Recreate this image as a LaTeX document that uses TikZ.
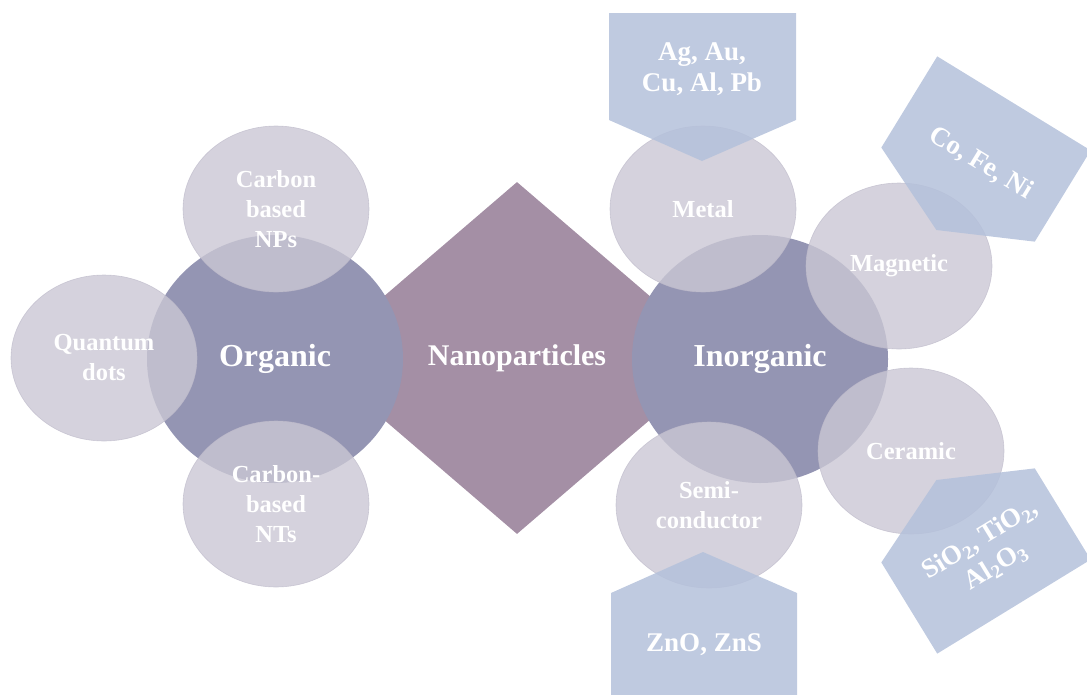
\documentclass[tikz,border=0pt]{standalone}
\usepackage{fontspec}
\setmainfont{Liberation Serif}
\usetikzlibrary{shapes.geometric}
\definecolor{bigblob}{RGB}{148,149,179}
\definecolor{diamondfill}{RGB}{164,143,165}
\definecolor{smallblob}{RGB}{202,199,212}
\definecolor{smallrim}{RGB}{190,186,202}
\definecolor{tagfill}{RGB}{180,193,219}

\begin{document}
\begin{tikzpicture}[x=1pt,y=-1pt,text=white]
        \tikzstyle{big}=[ellipse,fill=bigblob,minimum width=256pt,minimum height=248pt,font=\bfseries\fontsize{32}{38}\selectfont]
        \tikzstyle{small}=[ellipse,fill=smallblob,fill opacity=0.8,text opacity=1,draw=smallrim,draw opacity=0.7,line width=0.6pt,minimum width=186pt,minimum height=166pt,align=center,font=\bfseries\fontsize{24.5}{30}\selectfont]
        \tikzstyle{tag}=[fill=tagfill,fill opacity=0.85]
        \tikzstyle{taglabel}=[align=center,font=\bfseries\fontsize{27}{31}\selectfont]
        \useasboundingbox (0,0) rectangle (1087,694);
        \clip (0,0) rectangle (1087,694);

        \node[diamond,fill=diamondfill,minimum width=410pt,minimum height=352pt,aspect=1.165,font=\bfseries\fontsize{30}{36}\selectfont] (nano) at (517,358) {Nanoparticles};

        \node[big] (org)   at (275,359) {Organic};
        \node[big] (inorg) at (760,359) {Inorganic};

        \node[small] (qdots)  at (104,358) {Quantum\\dots};
        \node[small] (cnps)   at (276,209) {Carbon\\based\\NPs};
        \node[small] (cnts)   at (276,504) {Carbon-\\based\\NTs};
        \node[small] (metal)  at (703,209) {Metal};
        \node[small] (semi)   at (709,505) {Semi-\\conductor};
        \node[small] (magnet) at (899,266) {Magnetic};
        \node[small] (ceram)  at (911,451) {Ceramic};

        \fill[tag] (609,13) -- (796,13) -- (796,120) -- (702,161) -- (609,120) -- cycle;
        \node[taglabel] (metals) at (702,69) {Ag, Au,\\Cu, Al, Pb};

        \fill[tag] (611,700) -- (611,593) -- (703,552) -- (797,593) -- (797,700) -- cycle;
        \node[taglabel] (zinc) at (704,645) {ZnO, ZnS};

        \begin{scope}[shift={(986,149)},rotate=-31.5]
          \fill[tag] (-90,-53.5) -- (90,-53.5) -- (90,53.5) -- (0,95) -- (-90,53.5) -- cycle;
        \end{scope}
        \node[taglabel,rotate=-31.5] (ferro) at (981,163) {Co, Fe, Ni};

        \begin{scope}[shift={(986,561)},rotate=31.5]
          \fill[tag] (-90,53.5) -- (90,53.5) -- (90,-53.5) -- (0,-95) -- (-90,-53.5) -- cycle;
        \end{scope}
        \node[taglabel,rotate=31.5] (oxides) at (988,553) {SiO\textsubscript{2}, TiO\textsubscript{2},\\Al\textsubscript{2}O\textsubscript{3}};
      \end{tikzpicture}
\end{document}
